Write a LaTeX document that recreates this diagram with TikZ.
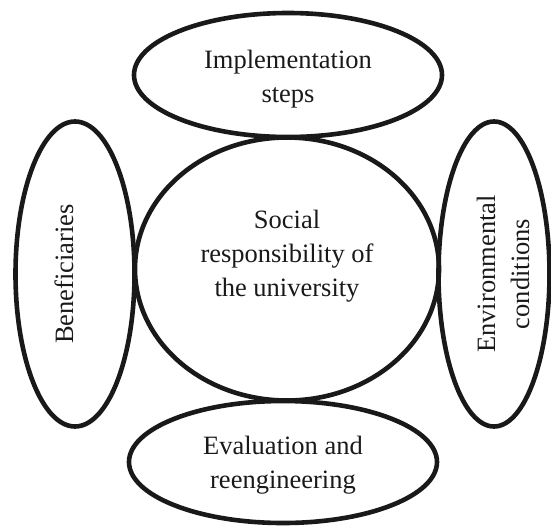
\documentclass[tikz,border=0pt]{standalone}
\usepackage{fontspec}
\setmainfont{Liberation Serif}
\usetikzlibrary{shapes.geometric}
\begin{document}
\begin{tikzpicture}[x=1pt,y=-1pt,
  oval/.style={ellipse,draw=black!90,line width=4.6pt,inner sep=0pt},
  txt/.style={align=center,font=\fontsize{26.5}{34}\selectfont,text=black!90,inner sep=0pt}]
\useasboundingbox (0,0) rectangle (551,525);
% ellipses
\node[oval,minimum width=308pt,minimum height=124pt] (top) at (288,75) {};
\node[oval,minimum width=304pt,minimum height=263pt] (center) at (287,269) {};
\node[oval,minimum width=119pt,minimum height=305pt] (left) at (75,274) {};
\node[oval,minimum width=111pt,minimum height=305pt] (right) at (494,274) {};
\node[oval,minimum width=308pt,minimum height=122pt] (bottom) at (283,462) {};
% texts
\node[txt] (ttop) at (288,79) {Implementation\\steps};
\node[txt] (tcenter) at (287,256) {Social\\responsibility of\\the university};
\node[txt,rotate=90] (tleft) at (64,274) {Beneficiaries};
\node[txt,rotate=90] (tright) at (503,274) {Environmental\\conditions};
\node[txt] (tbottom) at (283,465) {Evaluation and\\reengineering};
\end{tikzpicture}
\end{document}
